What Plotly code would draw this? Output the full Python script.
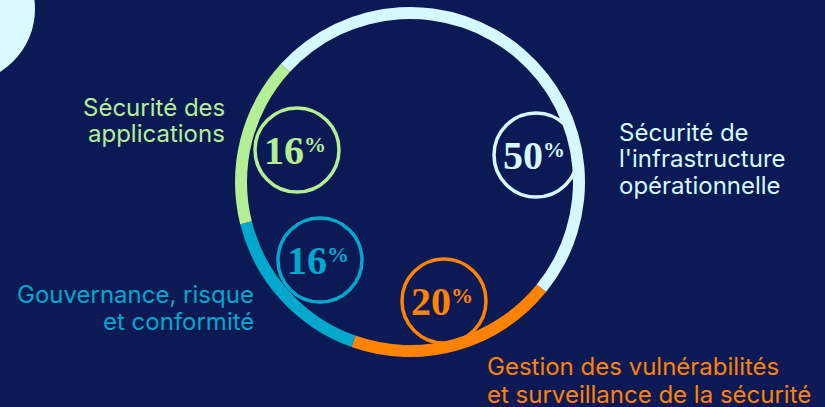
import plotly.graph_objects as go

# ---- data ----
categories = [
    "Sécurité de l'infrastructure opérationnelle",
    "Gestion des vulnérabilités et surveillance de la sécurité",
    "Gouvernance, risque et conformité",
    "Sécurité des applications",
]
values = [50, 20, 16, 16]
label_lines = [
    ["Sécurité de", "l'infrastructure", "opérationnelle"],
    ["Gestion des vulnérabilités", "et surveillance de la sécurité"],
    ["Gouvernance, risque", "et conformité"],
    ["Sécurité des", "applications"],
]

# ---- styles / layout positions (pixels) ----
W, H = 825, 407
BG = "#0b1a55"
colors = ["#d6f8ff", "#ff8300", "#00a8cc", "#b4ee95"]
ring_cx, ring_cy, ring_r = 410, 182, 175
ring_thick = 12
# badge circles: (cx, cy, r)
badges = [(536, 155, 42), (444, 301, 42), (320, 260, 42), (297, 150, 42)]
# text label anchors: (x, y of first line centre, align, line step)
label_pos = [(617, 132, "left", 26.5), (485, 366.5, "left", 27.5),
             (256, 294, "right", 27.5), (227, 107, "right", 27)]

def px(x):
    return x / W

def py(y):
    return 1 - y / H

fig = go.Figure()
fig.add_trace(go.Pie(
    labels=categories,
    values=values,
    hole=(ring_r - ring_thick) / ring_r,
    sort=False,
    direction="clockwise",
    rotation=-47.5,
    marker=dict(colors=colors, line=dict(width=0)),
    textinfo="none",
    hoverinfo="label+percent",
    showlegend=False,
    domain=dict(x=[px(ring_cx - ring_r), px(ring_cx + ring_r)],
                y=[py(ring_cy + ring_r), py(ring_cy - ring_r)]),
))

shapes = []
# decorative blob top-left
shapes.append(dict(type="circle", xref="paper", yref="paper",
                   x0=px(-39 - 74), x1=px(-39 + 74), y0=py(9 + 74), y1=py(9 - 74),
                   fillcolor="#d9fbff", line=dict(width=0), layer="below"))
for (cx, cy, r), c in zip(badges, colors):
    shapes.append(dict(type="circle", xref="paper", yref="paper",
                       x0=px(cx - r), x1=px(cx + r), y0=py(cy + r), y1=py(cy - r),
                       line=dict(color=c, width=3.5), fillcolor="rgba(0,0,0,0)"))

SERIF = "Liberation Serif, DejaVu Serif, serif"
annotations = []
for (cx, cy, r), c, v in zip(badges, colors, values):
    annotations.append(dict(
        x=px(cx + 7), y=py(cy + 0.5), xref="paper", yref="paper",
        text=f"<b>{v}</b>", showarrow=False, borderpad=0, borderwidth=0,
        xanchor="right", yanchor="middle",
        font=dict(family=SERIF, size=40, color=c),
    ))
    annotations.append(dict(
        x=px(cx + 7), y=py(cy - 5.5), xref="paper", yref="paper",
        text="<b>%</b>", showarrow=False, borderpad=0, borderwidth=0,
        xanchor="left", yanchor="middle",
        font=dict(family=SERIF, size=22, color=c),
    ))
for (x, y, al, step), c, lines in zip(label_pos, colors, label_lines):
    for i, line in enumerate(lines):
        annotations.append(dict(
            x=px(x), y=py(y + i * step), xref="paper", yref="paper",
            text=line, showarrow=False,
            xanchor=al, yanchor="middle", align=al,
            font=dict(family="Inter, Roboto, sans-serif", size=24, color=c),
        ))

fig.update_layout(
    width=W, height=H,
    margin=dict(l=0, r=0, t=0, b=0),
    paper_bgcolor=BG, plot_bgcolor=BG,
    shapes=shapes, annotations=annotations,
    showlegend=False,
)
fig.write_html("out.html", config={"displayModeBar": False})
